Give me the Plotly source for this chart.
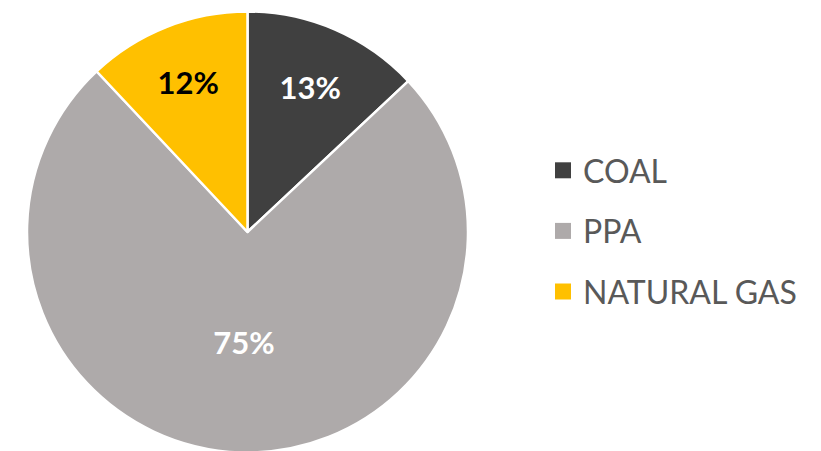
import plotly.graph_objects as go

labels = ["COAL", "PPA", "NATURAL GAS"]
values = [13, 75, 12]
colors = ["#404040", "#AEAAAA", "#FFC000"]
text_colors = ["#FFFFFF", "#FFFFFF", "#000000"]

W, H = 821, 451
OFF = 8  # page body margin offset

fig = go.Figure()
fig.add_trace(go.Pie(
    labels=labels,
    values=values,
    sort=False,
    direction="clockwise",
    rotation=0,
    marker=dict(colors=colors, line=dict(color="#FFFFFF", width=2.5)),
    textinfo="percent",
    texttemplate="%{percent:.0%}",
    textposition="inside",
    insidetextorientation="horizontal",
    textfont=dict(family="Lato", size=31, color=text_colors, weight="bold"),
    showlegend=False,
    hoverinfo="label+percent",
    domain=dict(x=[(27 - OFF) / W, (468 - OFF) / W],
                y=[1 - (453 - OFF) / H, 1 - (11 - OFF) / H]),
))

# legend entries (one per slice, same colours)
for lab, col in zip(labels, colors):
    fig.add_trace(go.Scatter(
        x=[None], y=[None], mode="markers", name=lab, legendgroup=lab,
        marker=dict(symbol="square", size=16, color=col),
        hoverinfo="skip",
    ))

fig.update_layout(
    width=W, height=H,
    margin=dict(l=0, r=0, t=0, b=0),
    paper_bgcolor="#FFFFFF",
    plot_bgcolor="#FFFFFF",
    xaxis=dict(visible=False),
    yaxis=dict(visible=False),
    showlegend=True,
    legend=dict(
        x=535 / W, xanchor="left",
        y=0.5 + 2.5 / H, yanchor="middle",
        traceorder="grouped",
        tracegroupgap=16,
        font=dict(family="Lato", size=32, color="#595959"),
        bgcolor="rgba(0,0,0,0)",
        borderwidth=0,
        itemclick=False, itemdoubleclick=False,
    ),
)

fig.write_html("out.html")
